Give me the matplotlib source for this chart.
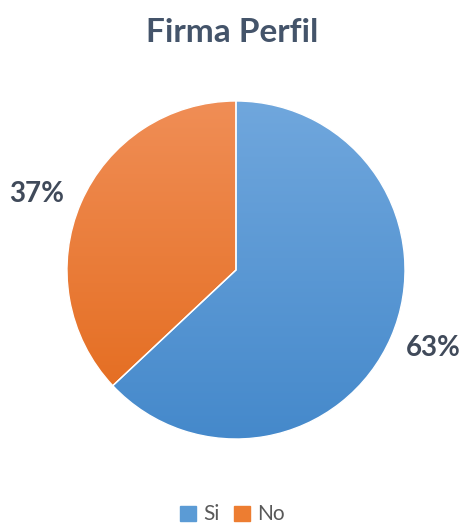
import numpy as np
import matplotlib.pyplot as plt
from matplotlib.colors import LinearSegmentedColormap

labels = ['Si', 'No']
values = [63, 37]
pct_labels = ['63%', '37%']

top_colors = ['#70a7dd', '#f08e56']
bottom_colors = ['#4589cb', '#e3691a']
legend_colors = ['#5b9bd5', '#ed7d31']

plt.rcParams['font.family'] = ['Lato', 'DejaVu Sans']

fig = plt.figure(figsize=(4.65, 5.26), dpi=100)
ax = fig.add_axes([0.144, 0.1654, 0.727, 0.6426])

wedges, _ = ax.pie(values, startangle=90, counterclock=False,
                   colors=legend_colors, radius=1.0,
                   wedgeprops=dict(edgecolor='white', linewidth=1.0))

# vertical gradient inside each wedge
grad = np.linspace(0, 1, 256).reshape(-1, 1)
for w, c0, c1 in zip(wedges, top_colors, bottom_colors):
    cmap = LinearSegmentedColormap.from_list('g', [c1, c0])
    im = ax.imshow(grad, extent=[-1, 1, -1, 1], origin='lower',
                   cmap=cmap, aspect='auto', zorder=w.get_zorder() + 0.1)
    im.set_clip_path(w)
    w.set_facecolor('none')
    w.set_zorder(w.get_zorder() + 0.2)

ax.set_xlim(-1.0, 1.0)
ax.set_ylim(-1.0, 1.0)
ax.set_aspect('equal')
ax.axis('off')

# data labels outside the pie
ax.text(1.165, -0.46, pct_labels[0], fontsize=20, fontweight='bold',
        color='#404a5a', ha='center', va='center')
ax.text(-1.18, 0.45, pct_labels[1], fontsize=20, fontweight='bold',
        color='#404a5a', ha='center', va='center')

fig.text(0.5, 0.938, 'Firma Perfil', fontsize=24, fontweight='bold',
         color='#44546a', ha='center', va='center')

handles = [plt.Rectangle((0, 0), 1, 1, color=c) for c in legend_colors]
fig.legend(handles, labels, loc='center', bbox_to_anchor=(0.5, 0.022),
           ncol=2, frameon=False, fontsize=15, handlelength=0.75,
           handleheight=0.75, handletextpad=0.35, columnspacing=0.7,
           labelcolor='#595959')

fig.savefig('out.png', dpi=100, facecolor='white')
